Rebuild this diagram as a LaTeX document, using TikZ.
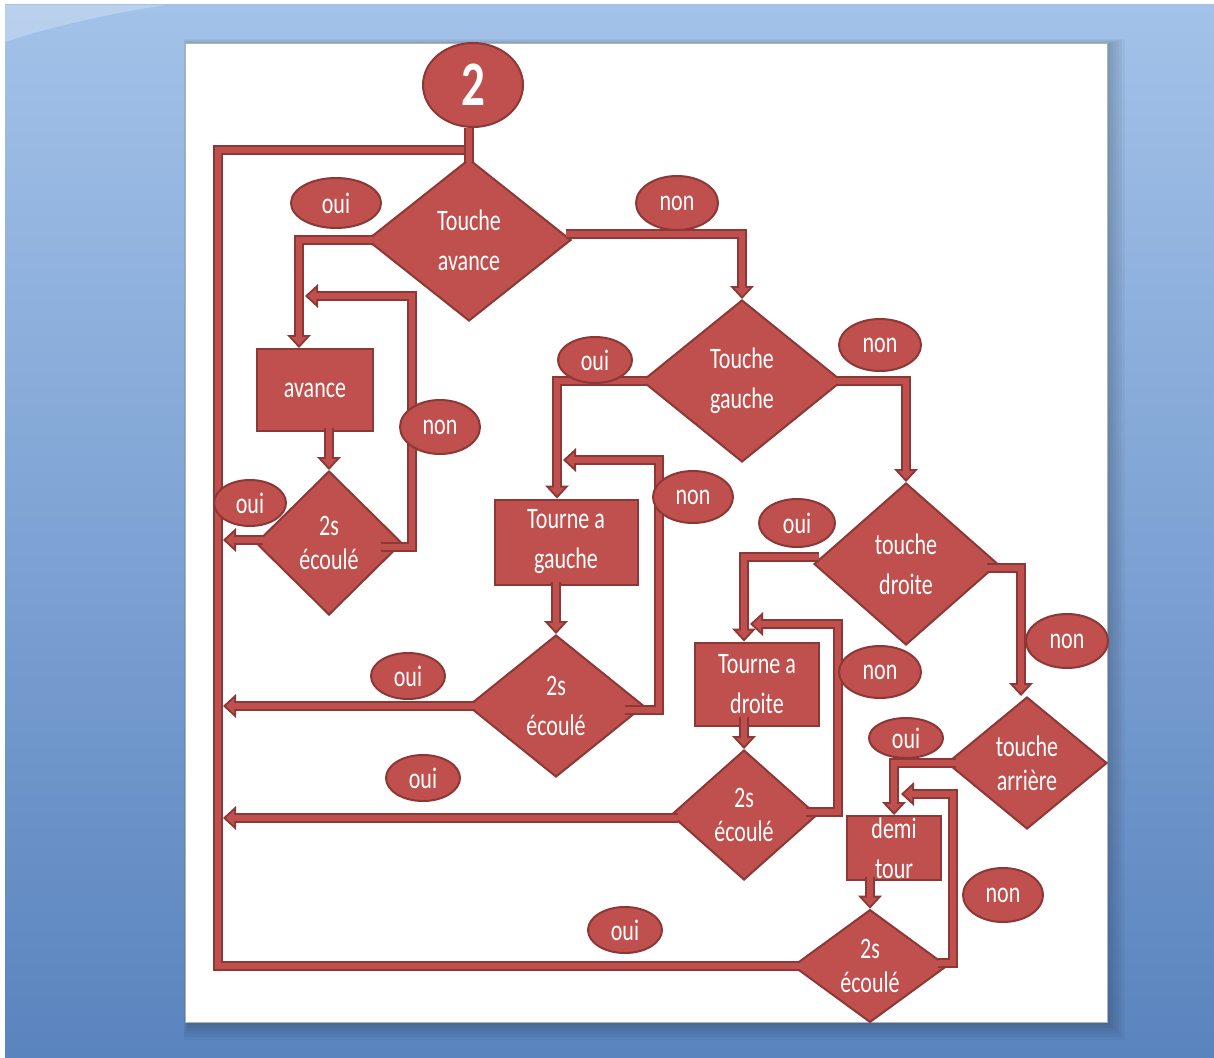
\documentclass[tikz,border=0pt]{standalone}
\usepackage{fontspec}
\usepackage{graphicx}
\setmainfont{Carlito}
\usetikzlibrary{shapes.geometric,arrows.meta,calc}
\definecolor{rc}{HTML}{C0504D}
\definecolor{dc}{HTML}{8C3836}
\definecolor{bgtop}{HTML}{A3C2E9}
\definecolor{bgbot}{HTML}{5A84BE}
\newcommand\tall[1]{\scalebox{1}[1.35]{#1}}
\tikzset{
  shp/.style={fill=rc, draw=dc, line width=2pt, text=white, align=center,
    inner sep=0pt, font=\fontsize{22}{40}\selectfont},
  dia/.style={shp, diamond},
  tight/.style={font=\fontsize{22}{34}\selectfont},
  boxn/.style={shp, rectangle},
  tag/.style={shp, ellipse},
  pipe/.style={draw=dc, line width=10pt, postaction={draw=rc, line width=6pt}},
  pipearr/.style={draw=dc, line width=10pt,
    -{Triangle[length=13pt,width=24pt,line width=0pt]},
    postaction={draw=rc, line width=6pt, shorten >=3pt,
      -{Triangle[length=8pt,width=15pt,line width=0pt]}}}
}
\begin{document}
\begin{tikzpicture}[x=1pt,y=-1pt]
\useasboundingbox (0,0) rectangle (1214,1057);
% slide background
\fill[white] (0,0) rectangle (1214,1057);
\shade[top color=bgtop, bottom color=bgbot] (5,5) rectangle (1214,1057);
\fill[white, opacity=0.25] (5,5) -- (165,5) .. controls (100,15) and (40,30) .. (5,42) -- cycle;
% panel shadow, falling to the lower right
\foreach \k in {3,6,9,12,15,18} {
  \fill[black, opacity=0.035] ({185+3-0.25*\k},{43+2-0.35*\k}) rectangle ({1107+\k},{1022+\k});
}
\fill[white] (185,43) rectangle (1107,1022);
\draw[black!30, line width=0.8pt] (185,43) rectangle (1107,1022);

% flowchart shapes
\node[tag, minimum width=100pt, minimum height=84pt, font=\fontsize{47}{50}\selectfont\bfseries] (start) at (473,85) {\tall{2}};
\node[dia, minimum width=204pt, minimum height=162pt] (d1) at (469,240) {\tall{Touche}\\\tall{avance}};
\node[boxn, minimum width=116pt, minimum height=82pt] (av) at (315,390) {\tall{avance}};
\node[dia, tight, minimum width=146pt, minimum height=144pt] (d3) at (329,543) {\tall{2s}\\\tall{écoulé}};
\node[dia, minimum width=200pt, minimum height=162pt] (d2) at (742,381) {\tall{Touche}\\\tall{gauche}};
\node[boxn, minimum width=143pt, minimum height=85pt] (boxG) at (566,542) {\tall{Tourne a}\\\tall{gauche}};
\node[dia, minimum width=176pt, minimum height=142pt] (d5) at (556,706) {\tall{2s}\\\tall{écoulé}};
\node[dia, minimum width=184pt, minimum height=162pt] (d4) at (906,564) {\tall{touche}\\\tall{droite}};
\node[boxn, minimum width=124pt, minimum height=83pt] (boxD) at (757,684) {\tall{Tourne a}\\\tall{droite}};
\node[dia, tight, minimum width=146pt, minimum height=130pt] (d7) at (744,815) {\tall{2s}\\\tall{écoulé}};
\node[dia, tight, minimum width=160pt, minimum height=132pt] (d6) at (1027,763) {\tall{touche}\\\tall{arrière}};
\node[boxn, minimum width=94pt, minimum height=64pt] (boxT) at (894,848) {\tall{demi}\\\tall{tour}};
\node[dia, tight, minimum width=154pt, minimum height=112pt] (d8) at (870,966) {\tall{2s}\\\tall{écoulé}};

% joints on the return lines
\coordinate (cTL) at (218,150);
\coordinate (cBL) at (218,966);
\coordinate (n3) at (412,296);
\coordinate (j3) at (305,296);
\coordinate (n5) at (659,460);
\coordinate (j5) at (563,460);
\coordinate (n7) at (838,624);
\coordinate (j7) at (750,624);
\coordinate (n8) at (953,794);
\coordinate (j8) at (901,794);

% connectors
\draw[pipe] ([xshift=8pt]d8.west) -- (cBL) -- (cTL) -- (cTL -| d1.north);
\draw[pipe] (d1.north |- start.south) -- ([yshift=-4pt]d1.north);

\draw[pipearr] ([xshift=6pt]d1.west) -| ([xshift=-16pt]av.north);
\draw[pipearr] ([xshift=-6pt,yshift=6pt]d1.east) -| (d2.north);
\draw[pipearr] ($(av.south -| d3.north)+(0,-4)$) -- (d3.north);
\draw[pipearr] ([xshift=-22pt,yshift=-4pt]d3.east) -| (n3) -- (j3);
\draw[pipearr] ([xshift=8pt,yshift=3pt]d3.west) -- ($(cTL |- d3.west)+(5,-3)$);

\draw[pipearr] ([xshift=6pt]d2.west) -| ([xshift=-9pt]boxG.north);
\draw[pipearr] ([xshift=-6pt]d2.east) -| (d4.north);
\draw[pipearr] ($(boxG.south -| d5.north)+(0,-4)$) -- (d5.north);
\draw[pipearr] ([xshift=-20pt,yshift=-4pt]d5.east) -| (n5) -- (j5);
\draw[pipearr] ([xshift=8pt]d5.west) -- ($(cTL |- d5.west)+(5,0)$);

\draw[pipearr] ([xshift=6pt,yshift=7pt]d4.west) -| ([xshift=-13pt]boxD.north);
\draw[pipearr] ([xshift=-12pt,yshift=-4pt]d4.east) -| ([xshift=-6pt]d6.north);
\draw[pipearr] ($(boxD.south -| d7.north)+(0,-10)$) -- (d7.north);
\draw[pipearr] ([xshift=-12pt,yshift=3pt]d7.east) -| (n7) -- (j7);
\draw[pipearr] ([xshift=8pt,yshift=-3pt]d7.west) -- ($(cTL |- d7.west)+(5,3)$);

\draw[pipearr] ([xshift=10pt]d6.west) -| (boxT.north);
\draw[pipearr] ($(boxT.south -| d8.north)+(0,-4)$) -- (d8.north);
\draw[pipearr] ([xshift=-10pt,yshift=3pt]d8.east) -| (n8) -- (j8);

% branch labels
\node[tag, minimum width=90pt, minimum height=50pt] (o1) at (336,203) {\tall{oui}};
\node[tag, minimum width=82pt, minimum height=54pt] (m1) at (677,203) {\tall{non}};
\node[tag, minimum width=72pt, minimum height=46pt] (o3) at (250,503) {\tall{oui}};
\node[tag, minimum width=80pt, minimum height=54pt] (m3) at (440,427) {\tall{non}};
\node[tag, minimum width=74pt, minimum height=46pt] (o2) at (595,360) {\tall{oui}};
\node[tag, minimum width=82pt, minimum height=52pt] (m2) at (880,345) {\tall{non}};
\node[tag, minimum width=80pt, minimum height=52pt] (m5) at (693,497) {\tall{non}};
\node[tag, minimum width=74pt, minimum height=46pt] (o5) at (408,676) {\tall{oui}};
\node[tag, minimum width=76pt, minimum height=48pt] (o4) at (797,523) {\tall{oui}};
\node[tag, minimum width=82pt, minimum height=54pt] (m4) at (1067,641) {\tall{non}};
\node[tag, minimum width=82pt, minimum height=52pt] (m7) at (880,672) {\tall{non}};
\node[tag, minimum width=74pt, minimum height=46pt] (o7) at (423,778) {\tall{oui}};
\node[tag, minimum width=74pt, minimum height=40pt] (o6) at (906,738) {\tall{oui}};
\node[tag, minimum width=80pt, minimum height=54pt] (m8) at (1003,895) {\tall{non}};
\node[tag, minimum width=74pt, minimum height=46pt] (o8) at (625,930) {\tall{oui}};
\end{tikzpicture}
\end{document}
